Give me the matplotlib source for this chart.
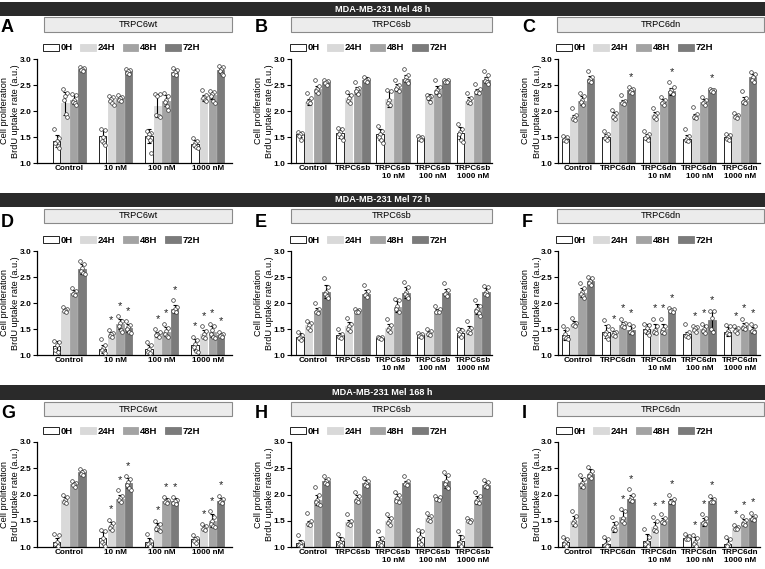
import matplotlib
matplotlib.use("Agg")
import matplotlib.pyplot as plt
from matplotlib.patches import Rectangle, Patch
import numpy as np

plt.rcParams['font.family'] = ['Liberation Sans', 'DejaVu Sans']

times = ['0H', '24H', '48H', '72H']
colors = ['white', '#d9d9d9', '#a3a3a3', '#7b7b7b']

headers = ['MDA-MB-231 Mel 48 h', 'MDA-MB-231 Mel 72 h', 'MDA-MB-231 Mel 168 h']
box_titles = ['TRPC6wt', 'TRPC6sb', 'TRPC6dn']
letters = ['A', 'B', 'C', 'D', 'E', 'F', 'G', 'H', 'I']

wt_groups = ['Control', '10 nM', '100 nM', '1000 nM']
sb_groups = ['Control', 'TRPC6sb', 'TRPC6sb\n10 nM', 'TRPC6sb\n100 nM', 'TRPC6sb\n1000 nM']
dn_groups = ['Control', 'TRPC6dn', 'TRPC6dn\n10 nM', 'TRPC6dn\n100 nM', 'TRPC6dn\n1000 nM']

# ---- 48 h ----
A_mean = [[1.42, 2.15, 2.22, 2.80], [1.52, 2.22, 2.25, 2.76], [1.52, 2.10, 2.20, 2.75], [1.37, 2.25, 2.30, 2.78]]
A_sd = [[0.12, 0.22, 0.08, 0.03], [0.12, 0.05, 0.04, 0.03], [0.13, 0.22, 0.10, 0.05], [0.07, 0.05, 0.07, 0.05]]
A_pts = [
    [[1.65, 1.48, 1.42, 1.38, 1.32, 1.28], [2.42, 2.35, 2.28, 2.22, 1.95, 1.88], [2.33, 2.30, 2.22, 2.18, 2.15, 2.12], [2.84, 2.82, 2.80, 2.78, 2.77]],
    [[1.65, 1.63, 1.50, 1.42, 1.38, 1.35], [2.28, 2.26, 2.24, 2.20, 2.16, 2.12], [2.30, 2.27, 2.25, 2.22, 2.20], [2.80, 2.78, 2.76, 2.74, 2.72]],
    [[1.62, 1.58, 1.55, 1.50, 1.45, 1.20], [2.33, 2.32, 2.28, 1.92, 1.90, 1.88], [2.35, 2.28, 2.22, 2.18, 2.10, 2.02], [2.82, 2.78, 2.75, 2.72, 2.70]],
    [[1.48, 1.42, 1.38, 1.35, 1.30, 1.28], [2.40, 2.30, 2.27, 2.25, 2.22, 2.20], [2.38, 2.36, 2.32, 2.28, 2.20, 2.16], [2.86, 2.84, 2.80, 2.76, 2.72, 2.70]],
]
A_star = []

B_mean = [[1.55, 2.18, 2.42, 2.55], [1.58, 2.25, 2.40, 2.60], [1.55, 2.23, 2.45, 2.62], [1.48, 2.27, 2.40, 2.58], [1.58, 2.20, 2.38, 2.60]]
B_sd = [[0.05, 0.06, 0.07, 0.03], [0.10, 0.08, 0.07, 0.05], [0.10, 0.15, 0.06, 0.07], [0.03, 0.05, 0.08, 0.03], [0.12, 0.06, 0.05, 0.06]]
B_pts = [
    [[1.60, 1.58, 1.55, 1.52, 1.45], [2.35, 2.25, 2.20, 2.17, 2.15], [2.60, 2.48, 2.42, 2.38, 2.35], [2.60, 2.58, 2.55, 2.53, 2.50]],
    [[1.68, 1.65, 1.60, 1.55, 1.50, 1.45], [2.36, 2.30, 2.25, 2.20, 2.16], [2.55, 2.45, 2.42, 2.38, 2.33], [2.65, 2.62, 2.60, 2.58, 2.55]],
    [[1.72, 1.62, 1.55, 1.50, 1.45, 1.38], [2.40, 2.38, 2.22, 2.15, 2.12], [2.60, 2.50, 2.46, 2.42, 2.38], [2.80, 2.70, 2.65, 2.60, 2.57, 2.53]],
    [[1.52, 1.50, 1.48, 1.46, 1.45], [2.30, 2.29, 2.27, 2.25, 2.18], [2.60, 2.46, 2.40, 2.36, 2.30], [2.60, 2.59, 2.58, 2.56, 2.55]],
    [[1.75, 1.65, 1.60, 1.55, 1.45, 1.40], [2.35, 2.25, 2.22, 2.18, 2.15], [2.52, 2.42, 2.38, 2.36, 2.35], [2.76, 2.70, 2.62, 2.58, 2.55, 2.52]],
]
B_star = []

C_mean = [[1.47, 1.88, 2.20, 2.62], [1.50, 1.92, 2.18, 2.40], [1.50, 1.92, 2.18, 2.38], [1.47, 1.90, 2.18, 2.40], [1.50, 1.90, 2.20, 2.65]]
C_sd = [[0.04, 0.05, 0.08, 0.06], [0.05, 0.07, 0.04, 0.05], [0.06, 0.07, 0.05, 0.07], [0.06, 0.05, 0.05, 0.02], [0.05, 0.04, 0.07, 0.07]]
C_pts = [
    [[1.52, 1.50, 1.47, 1.45, 1.42], [2.05, 1.92, 1.88, 1.85, 1.82], [2.35, 2.28, 2.22, 2.18, 2.12], [2.76, 2.66, 2.62, 2.58, 2.55]],
    [[1.62, 1.55, 1.52, 1.48, 1.45], [2.02, 1.97, 1.92, 1.88, 1.85], [2.30, 2.20, 2.18, 2.16, 2.14], [2.46, 2.42, 2.40, 2.37, 2.35]],
    [[1.62, 1.56, 1.52, 1.48, 1.45], [2.05, 1.97, 1.92, 1.88, 1.85], [2.26, 2.22, 2.18, 2.15, 2.12], [2.55, 2.46, 2.40, 2.36, 2.33]],
    [[1.65, 1.52, 1.48, 1.44, 1.42], [2.08, 1.95, 1.91, 1.89, 1.87], [2.26, 2.22, 2.18, 2.15, 2.12], [2.43, 2.41, 2.40, 2.39, 2.37]],
    [[1.56, 1.53, 1.50, 1.47, 1.45], [1.96, 1.93, 1.90, 1.88, 1.86], [2.38, 2.25, 2.20, 2.17, 2.15], [2.75, 2.72, 2.66, 2.60, 2.55]],
]
C_star = [(1, 3), (2, 3), (3, 3)]

# ---- 72 h ----
D_mean = [[1.18, 1.85, 2.20, 2.65], [1.12, 1.40, 1.60, 1.52], [1.12, 1.40, 1.45, 1.88], [1.20, 1.40, 1.45, 1.38]]
D_sd = [[0.08, 0.03, 0.05, 0.10], [0.08, 0.04, 0.10, 0.07], [0.08, 0.05, 0.09, 0.08], [0.10, 0.08, 0.10, 0.04]]
D_pts = [
    [[1.27, 1.25, 1.20, 1.10, 1.05], [1.92, 1.88, 1.86, 1.84, 1.83], [2.28, 2.24, 2.20, 2.17, 2.15], [2.80, 2.75, 2.68, 2.62, 2.58, 2.55]],
    [[1.30, 1.20, 1.14, 1.10, 1.06, 1.04], [1.48, 1.43, 1.40, 1.37, 1.35], [1.75, 1.66, 1.62, 1.55, 1.48, 1.45], [1.65, 1.58, 1.53, 1.50, 1.45, 1.42]],
    [[1.25, 1.20, 1.12, 1.06, 1.03], [1.50, 1.45, 1.41, 1.38, 1.35], [1.60, 1.52, 1.46, 1.40, 1.36, 1.34], [2.05, 1.92, 1.88, 1.85, 1.83]],
    [[1.35, 1.28, 1.22, 1.15, 1.08, 1.05], [1.55, 1.46, 1.40, 1.35, 1.32], [1.60, 1.55, 1.48, 1.40, 1.35, 1.32], [1.45, 1.41, 1.38, 1.36, 1.35]],
]
D_star = [(1, 1), (1, 2), (1, 3), (2, 1), (2, 2), (2, 3), (3, 0), (3, 1), (3, 2), (3, 3)]

E_mean = [[1.35, 1.57, 1.85, 2.22], [1.38, 1.55, 1.85, 2.18], [1.33, 1.52, 1.93, 2.20], [1.38, 1.42, 1.85, 2.20], [1.43, 1.48, 1.88, 2.22]]
E_sd = [[0.07, 0.07, 0.05, 0.12], [0.05, 0.08, 0.03, 0.07], [0.02, 0.07, 0.10, 0.10], [0.03, 0.05, 0.04, 0.07], [0.08, 0.08, 0.10, 0.07]]
E_pts = [
    [[1.45, 1.38, 1.35, 1.32, 1.28], [1.65, 1.62, 1.57, 1.52, 1.48], [2.00, 1.88, 1.85, 1.83, 1.81], [2.48, 2.30, 2.22, 2.18, 2.14, 2.10]],
    [[1.50, 1.40, 1.37, 1.34, 1.32], [1.72, 1.60, 1.55, 1.50, 1.47], [1.88, 1.86, 1.85, 1.83, 1.82], [2.35, 2.24, 2.18, 2.15, 2.12]],
    [[1.35, 1.34, 1.33, 1.32, 1.31], [1.70, 1.58, 1.52, 1.48, 1.45], [2.08, 2.05, 1.95, 1.88, 1.83], [2.40, 2.30, 2.22, 2.17, 2.13, 2.10]],
    [[1.42, 1.40, 1.38, 1.36, 1.35], [1.50, 1.46, 1.43, 1.40, 1.38], [1.95, 1.88, 1.85, 1.83, 1.82], [2.38, 2.25, 2.20, 2.17, 2.14]],
    [[1.50, 1.48, 1.45, 1.40, 1.35], [1.65, 1.52, 1.48, 1.45, 1.42], [2.05, 1.95, 1.88, 1.85, 1.80, 1.75], [2.32, 2.30, 2.22, 2.18, 2.15]],
]
E_star = []

F_mean = [[1.38, 1.60, 2.20, 2.42], [1.45, 1.42, 1.58, 1.48], [1.50, 1.50, 1.50, 1.85], [1.40, 1.50, 1.50, 1.67], [1.45, 1.48, 1.55, 1.48]]
F_sd = [[0.10, 0.05, 0.08, 0.06], [0.12, 0.05, 0.05, 0.08], [0.10, 0.10, 0.10, 0.03], [0.05, 0.04, 0.07, 0.18], [0.08, 0.04, 0.07, 0.06]]
F_pts = [
    [[1.55, 1.50, 1.40, 1.35, 1.32, 1.30], [1.72, 1.62, 1.59, 1.57, 1.55], [2.38, 2.28, 2.22, 2.18, 2.14, 2.10], [2.50, 2.48, 2.42, 2.38, 2.35]],
    [[1.68, 1.55, 1.45, 1.40, 1.35, 1.30], [1.50, 1.45, 1.42, 1.39, 1.37], [1.70, 1.62, 1.59, 1.56, 1.54], [1.60, 1.55, 1.47, 1.44, 1.42]],
    [[1.60, 1.58, 1.52, 1.47, 1.43, 1.38], [1.70, 1.55, 1.48, 1.44, 1.42], [1.70, 1.56, 1.50, 1.45, 1.42], [1.90, 1.88, 1.86, 1.84, 1.83]],
    [[1.60, 1.45, 1.40, 1.37, 1.35], [1.55, 1.53, 1.51, 1.48, 1.45], [1.60, 1.55, 1.50, 1.46, 1.42], [1.85, 1.85, 1.72, 1.50, 1.45]],
    [[1.58, 1.55, 1.47, 1.42, 1.40], [1.55, 1.51, 1.48, 1.46, 1.43], [1.70, 1.60, 1.56, 1.52, 1.50], [1.60, 1.55, 1.48, 1.46, 1.44]],
]
F_star = [(1, 1), (1, 2), (1, 3), (2, 1), (2, 2), (2, 3), (3, 1), (3, 2), (3, 3), (4, 1), (4, 2), (4, 3)]

# ---- 168 h ----
G_mean = [[1.10, 1.90, 2.20, 2.42], [1.18, 1.40, 1.92, 2.22], [1.10, 1.38, 1.88, 1.87], [1.15, 1.37, 1.50, 1.88]]
G_sd = [[0.08, 0.06, 0.04, 0.04], [0.10, 0.08, 0.07, 0.10], [0.08, 0.07, 0.05, 0.06], [0.05, 0.05, 0.12, 0.05]]
G_pts = [
    [[1.25, 1.22, 1.10, 1.05, 1.02], [2.00, 1.95, 1.90, 1.86, 1.84], [2.25, 2.22, 2.20, 2.18, 2.15], [2.48, 2.45, 2.42, 2.39, 2.37]],
    [[1.33, 1.30, 1.18, 1.10, 1.05, 1.02], [1.52, 1.45, 1.40, 1.36, 1.33], [2.08, 1.98, 1.93, 1.90, 1.86], [2.35, 2.30, 2.24, 2.18, 2.12, 2.08]],
    [[1.25, 1.12, 1.08, 1.05, 1.02], [1.50, 1.43, 1.39, 1.35, 1.32, 1.30], [1.95, 1.90, 1.87, 1.85, 1.83], [1.95, 1.90, 1.87, 1.84, 1.82]],
    [[1.22, 1.18, 1.15, 1.12, 1.08], [1.43, 1.40, 1.37, 1.34, 1.32], [1.68, 1.58, 1.50, 1.44, 1.40, 1.38], [1.98, 1.92, 1.88, 1.85, 1.83]],
]
G_star = [(1, 1), (1, 2), (1, 3), (2, 1), (2, 2), (2, 3), (3, 1), (3, 2), (3, 3)]

H_mean = [[1.08, 1.45, 1.90, 2.25], [1.12, 1.47, 1.92, 2.22], [1.12, 1.50, 1.93, 2.22], [1.20, 1.55, 1.92, 2.25], [1.12, 1.50, 1.90, 2.18]]
H_sd = [[0.05, 0.05, 0.10, 0.05], [0.07, 0.05, 0.07, 0.05], [0.08, 0.07, 0.08, 0.04], [0.10, 0.05, 0.03, 0.12], [0.10, 0.03, 0.08, 0.05]]
H_pts = [
    [[1.22, 1.10, 1.07, 1.04, 1.02], [1.65, 1.50, 1.46, 1.43, 1.41], [2.15, 2.00, 1.90, 1.85, 1.82, 1.80], [2.35, 2.30, 2.25, 2.22, 2.20]],
    [[1.25, 1.15, 1.10, 1.06, 1.04], [1.62, 1.50, 1.46, 1.44, 1.42], [2.05, 1.97, 1.92, 1.88, 1.85], [2.32, 2.26, 2.22, 2.19, 2.16]],
    [[1.30, 1.18, 1.10, 1.06, 1.04], [1.62, 1.55, 1.50, 1.45, 1.42], [2.05, 2.00, 1.93, 1.88, 1.85], [2.35, 2.25, 2.22, 2.20, 2.18]],
    [[1.33, 1.30, 1.20, 1.10, 1.05], [1.65, 1.60, 1.55, 1.52, 1.50], [1.97, 1.95, 1.92, 1.91, 1.90], [2.43, 2.38, 2.25, 2.20, 2.15, 2.12]],
    [[1.30, 1.20, 1.10, 1.05, 1.02], [1.55, 1.52, 1.50, 1.49, 1.48], [2.05, 1.98, 1.90, 1.86, 1.84], [2.28, 2.23, 2.18, 2.16, 2.15]],
]
H_star = []

I_mean = [[1.10, 1.50, 2.22, 2.40], [1.05, 1.38, 1.58, 1.92], [1.12, 1.38, 1.50, 1.87], [1.18, 1.10, 1.48, 1.88], [1.05, 1.37, 1.47, 1.55]]
I_sd = [[0.07, 0.10, 0.10, 0.08], [0.10, 0.10, 0.10, 0.07], [0.12, 0.10, 0.06, 0.05], [0.04, 0.10, 0.08, 0.05], [0.10, 0.03, 0.06, 0.05]]
I_pts = [
    [[1.20, 1.15, 1.10, 1.05, 1.02], [1.68, 1.60, 1.50, 1.45, 1.42], [2.38, 2.30, 2.22, 2.18, 2.15], [2.53, 2.45, 2.40, 2.36, 2.32]],
    [[1.20, 1.15, 1.06, 1.03, 1.01], [1.58, 1.45, 1.38, 1.35, 1.32], [1.72, 1.68, 1.56, 1.50, 1.46], [2.10, 2.00, 1.93, 1.90, 1.88]],
    [[1.35, 1.20, 1.10, 1.05, 1.02], [1.58, 1.50, 1.38, 1.33, 1.30], [1.62, 1.55, 1.50, 1.47, 1.45], [2.00, 1.92, 1.87, 1.85, 1.83]],
    [[1.25, 1.21, 1.18, 1.16, 1.15], [1.22, 1.18, 1.10, 1.05, 1.02], [1.62, 1.55, 1.48, 1.46, 1.44], [1.98, 1.92, 1.88, 1.86, 1.85]],
    [[1.20, 1.15, 1.05, 1.02], [1.42, 1.39, 1.37, 1.35, 1.34], [1.60, 1.52, 1.47, 1.44, 1.42], [1.65, 1.60, 1.56, 1.53, 1.52]],
]
I_star = [(1, 2), (1, 3), (2, 1), (2, 2), (2, 3), (3, 1), (3, 2), (3, 3), (4, 1), (4, 2), (4, 3)]

panels = [
    (wt_groups, A_mean, A_sd, A_pts, A_star), (sb_groups, B_mean, B_sd, B_pts, B_star), (dn_groups, C_mean, C_sd, C_pts, C_star),
    (wt_groups, D_mean, D_sd, D_pts, D_star), (sb_groups, E_mean, E_sd, E_pts, E_star), (dn_groups, F_mean, F_sd, F_pts, F_star),
    (wt_groups, G_mean, G_sd, G_pts, G_star), (sb_groups, H_mean, H_sd, H_pts, H_star), (dn_groups, I_mean, I_sd, I_pts, I_star),
]

# layout in pixels of the 765x569 canvas
W, H = 765, 569
def fx(x):
    return x / W
def fy(y):
    return 1 - y / H

row_hdr = [(2, 16), (193, 207), (385, 400)]
row_box = [(17, 32), (209, 223), (402, 416)]
row_ax = [(59, 163), (251, 355), (442, 547)]
col_ax = [(37, 232), (291, 492), (558, 760)]
col_box = [(44, 232), (291, 492), (557, 764)]
letter_x = [1, 255, 522]
letter_y = [27, 222, 414]
xlims = [(-0.70, 3.52), (-0.55, 4.47), (-0.49, 4.49)]
pitch = [0.185, 0.215, 0.205]
barw = [0.16, 0.185, 0.18]
jit = [-0.28, 0.28, 0.0, -0.15, 0.15, 0.32]

fig = plt.figure(figsize=(7.65, 5.69), dpi=100)

for r in range(3):
    y0, y1 = row_hdr[r]
    fig.add_artist(Rectangle((0, fy(y1)), 1, (y1 - y0) / H, transform=fig.transFigure,
                             facecolor='#2a2a2a', edgecolor='none'))
    fig.text(0.5, fy((y0 + y1) / 2), headers[r], color='white', fontsize=6.6,
             fontweight='bold', ha='center', va='center')

for k, (groups, mean, sd, pts, stars) in enumerate(panels):
    r, c = divmod(k, 3)
    ax0, ax1 = col_ax[c]
    ay0, ay1 = row_ax[r]
    ax = fig.add_axes([fx(ax0), fy(ay1), (ax1 - ax0) / W, (ay1 - ay0) / H])

    # grey title box
    b0, b1 = col_box[c]
    by0, by1 = row_box[r]
    fig.add_artist(Rectangle((fx(b0), fy(by1)), (b1 - b0) / W, (by1 - by0) / H,
                             transform=fig.transFigure, facecolor='#ececec',
                             edgecolor='#8a8a8a', lw=0.8))
    fig.text(fx((b0 + b1) / 2), fy((by0 + by1) / 2), box_titles[c], fontsize=6.6,
             ha='center', va='center')
    fig.text(fx(letter_x[c]), fy(letter_y[r]), letters[k], fontsize=13,
             fontweight='bold', ha='left', va='center')

    m = np.array(mean)
    s = np.array(sd)
    gx = np.arange(len(groups))
    for t in range(4):
        x = gx + (t - 1.5) * pitch[c]
        ax.bar(x, m[:, t], width=barw[c], color=colors[t],
               edgecolor='black' if t == 0 else colors[t], linewidth=0.6, zorder=1)
        ax.errorbar(x, m[:, t], yerr=s[:, t], fmt='none', ecolor='black',
                    elinewidth=0.8, capsize=1.6, capthick=0.8, zorder=2)
        for g in range(len(groups)):
            p = pts[g][t]
            px = x[g] + np.array(jit[:len(p)]) * barw[c]
            ax.scatter(px, p, s=7, facecolor='white', edgecolor='#333333',
                       linewidth=0.5, zorder=3)
    for g, t in stars:
        top = max(m[g, t] + s[g, t], max(pts[g][t]))
        ax.text(gx[g] + (t - 1.5) * pitch[c], top + 0.2, '*', fontsize=8,
                ha='center', va='center', color='#222222')

    ax.set_xlim(*xlims[c])
    ax.set_ylim(1.0, 3.0)
    ax.set_yticks([1.0, 1.5, 2.0, 2.5, 3.0])
    ax.set_yticklabels(['1.0', '1.5', '2.0', '2.5', '3.0'], fontsize=6, fontweight='bold')
    ax.set_xticks(gx)
    ax.set_xticklabels(groups, fontsize=5.9, fontweight='bold', linespacing=1.2)
    ax.tick_params(axis='x', length=0, pad=1.2)
    ax.tick_params(axis='y', length=3, width=0.8, pad=1.2)
    for sp in ['top', 'right']:
        ax.spines[sp].set_visible(False)
    for sp in ['left', 'bottom']:
        ax.spines[sp].set_linewidth(0.9)
    ax.set_ylabel('Cell proliferation\nBrdU uptake rate (a.u.)', fontsize=6.6, linespacing=1.3)
    ax.yaxis.set_label_coords(-16.5 / (ax1 - ax0), 0.5)

    handles = [Patch(facecolor=colors[t], edgecolor='black' if t == 0 else colors[t],
                     linewidth=0.6) for t in range(4)]
    fig.legend(handles, times, loc='center left',
               bbox_to_anchor=(fx(col_box[c][0] - 1), fy(ay0 - 11)),
               bbox_transform=fig.transFigure, ncol=4, frameon=False,
               prop={'size': 6.8, 'weight': 'bold'}, handlelength=1.65, handleheight=0.75,
               handletextpad=0.2, columnspacing=0.8, borderpad=0, borderaxespad=0)

fig.savefig('out.png', dpi=100)
